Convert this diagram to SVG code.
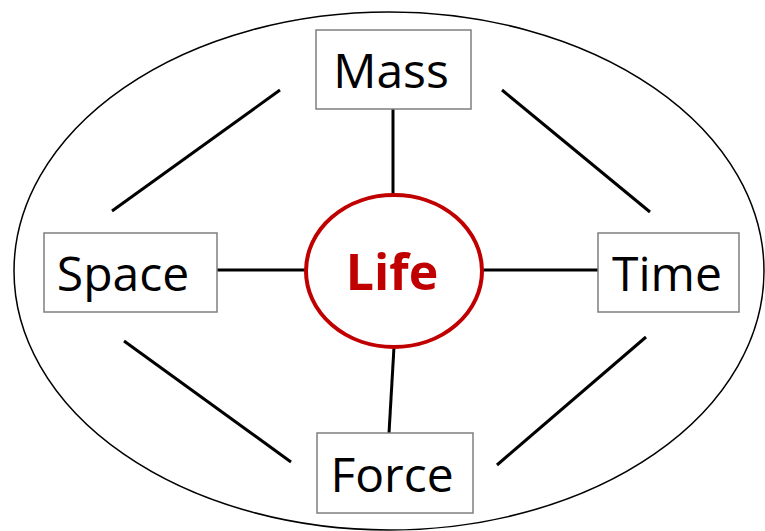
<svg xmlns="http://www.w3.org/2000/svg" width="765" height="531" viewBox="0 0 765 531">
<style>
.box{fill:#fff;stroke:#7f7f7f;stroke-width:1.5}
.lbl{font-family:"Open Sans","Liberation Sans",sans-serif;font-size:48px;fill:#000;text-anchor:middle}
.con{stroke:#000;stroke-width:3;fill:none}
</style>
<rect width="765" height="531" fill="#fff"/>
<ellipse id="outer" cx="389" cy="271" rx="375" ry="259" fill="none" stroke="#000" stroke-width="1.5"/>
<g id="connectors">
<line class="con" x1="393" y1="109" x2="393" y2="194"/>
<line class="con" x1="394" y1="347" x2="389" y2="433"/>
<line class="con" x1="217" y1="270" x2="305" y2="270"/>
<line class="con" x1="483" y1="270" x2="598" y2="270"/>
<line class="con" x1="280" y1="90" x2="112" y2="211"/>
<line class="con" x1="502" y1="90" x2="650" y2="212"/>
<line class="con" x1="124" y1="341" x2="291" y2="462"/>
<line class="con" x1="646" y1="337" x2="497" y2="465"/>
</g>
<g id="mass"><rect class="box" x="316" y="30" width="155" height="79"/><text class="lbl" x="391" y="88">Mass</text></g>
<g id="space"><rect class="box" x="44" y="233" width="173" height="79"/><text class="lbl" x="123" y="291">Space</text></g>
<g id="time"><rect class="box" x="598" y="233" width="141" height="79"/><text class="lbl" x="667" y="291">Time</text></g>
<g id="force"><rect class="box" x="317" y="433" width="156" height="80"/><text class="lbl" x="392" y="492">Force</text></g>
<g id="life"><ellipse cx="394" cy="271" rx="88" ry="76" fill="#fff" stroke="#c00000" stroke-width="4"/><text x="392" y="290" font-family="'Open Sans','Liberation Sans',sans-serif" font-size="50" font-weight="bold" fill="#c00000" text-anchor="middle">Life</text></g>
</svg>
